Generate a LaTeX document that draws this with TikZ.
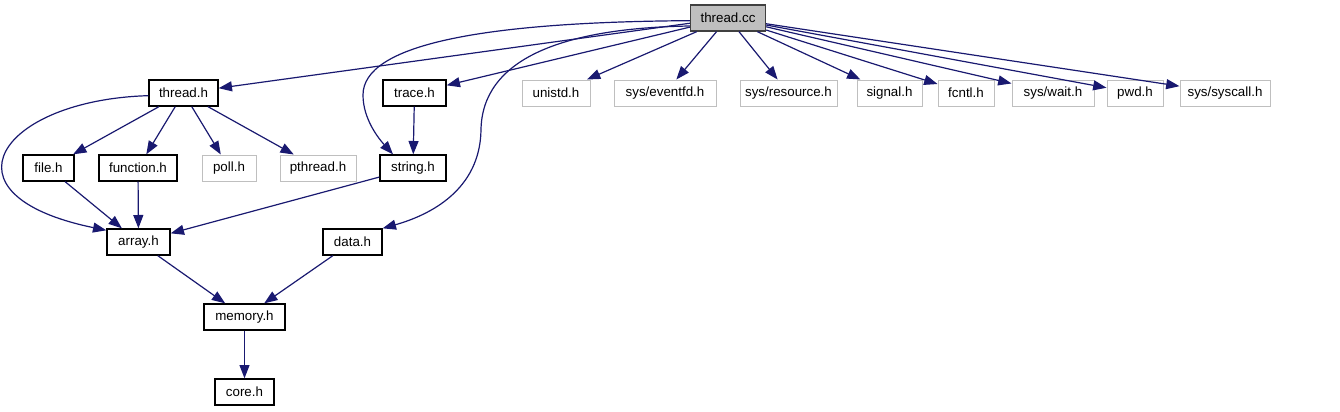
\documentclass[tikz,border=0pt]{standalone}
\usepackage{fontspec}
\setmainfont{Liberation Sans}
\usetikzlibrary{arrows.meta}
\definecolor{edgeblue}{HTML}{191970}
\definecolor{extgray}{HTML}{BFBFBF}
\definecolor{rootgray}{HTML}{BFBFBF}
\definecolor{rootline}{HTML}{404040}

\begin{document}
\begin{tikzpicture}[
  x=0.75pt, y=-0.75pt,
  >={Triangle[length=10pt, width=7.5pt]},
  every node/.style={font=\fontsize{10}{12}\selectfont, text=black},
  hdr/.style={draw=black, line width=1pt, fill=white, minimum height=19.5pt, inner xsep=2pt, inner ysep=0pt},
  ext/.style={hdr, draw=extgray, line width=0.75pt},
  root/.style={hdr, draw=rootline, fill=rootgray},
  dep/.style={edgeblue, line width=0.9pt, ->},
]

\useasboundingbox (0,0) rectangle (1340,411);

% Root file
\node[root, minimum width=56.25pt] (tcc) at (728,18) {thread.cc};

% First row
\node[hdr, minimum width=51.75pt] (threadh) at (183.5,93) {thread.h};
\node[hdr, minimum width=47.25pt] (trace) at (414.5,93) {trace.h};
\node[ext, minimum width=51pt] (unistd) at (556,93) {unistd.h};
\node[ext, minimum width=76.5pt] (eventfd) at (665,93) {sys/eventfd.h};
\node[ext, minimum width=72.75pt] (resource) at (788.5,93) {sys/resource.h};
\node[ext, minimum width=48.75pt] (signal) at (889.5,93) {signal.h};
\node[ext, minimum width=42pt] (fcntl) at (966,93) {fcntl.h};
\node[ext, minimum width=61.5pt] (wait) at (1053,93) {sys/wait.h};
\node[ext, minimum width=42pt] (pwd) at (1135,93) {pwd.h};
\node[ext, minimum width=67.5pt] (syscall) at (1225,93) {sys/syscall.h};

% Second row
\node[hdr, minimum width=38.25pt] (file) at (48.5,168) {file.h};
\node[hdr, minimum width=58.5pt] (function) at (138,168) {function.h};
\node[ext, minimum width=40.5pt] (poll) at (229,168) {poll.h};
\node[ext, minimum width=57pt] (pthread) at (318,168) {pthread.h};
\node[hdr, minimum width=49.5pt] (string) at (413,168) {string.h};

% Lower rows
\node[hdr, minimum width=47.25pt] (array) at (138.5,242) {array.h};
\node[hdr, minimum width=44.25pt] (data) at (352.5,242) {data.h};
\node[hdr, minimum width=60.75pt] (memory) at (244.5,317) {memory.h};
\node[hdr, minimum width=44.25pt] (core) at (244.5,392) {core.h};

% Edges from thread.cc
\draw[dep] (tcc) -- (threadh);
\draw[dep] ([yshift=-2pt]tcc.west) .. controls (480,22) and (363,45) .. (363,95)
  .. controls (363,120) and (380,140) .. ([xshift=-15pt]string.north);
\draw[dep] (tcc) -- (trace);
\draw[dep] ([yshift=-6pt]tcc.west) .. controls (560,28) and (482,60) .. (481,130)
  .. controls (480,190) and (430,215) .. (data.north east);
\draw[dep] (tcc) -- (unistd);
\draw[dep] (tcc) -- (eventfd);
\draw[dep] (tcc) -- (resource);
\draw[dep] (tcc) -- (signal);
\draw[dep] (tcc) -- (fcntl);
\draw[dep] (tcc) -- (wait);
\draw[dep] (tcc) -- (pwd);
\draw[dep] (tcc) -- (syscall);

% Edges from thread.h
\draw[dep] (threadh) -- (file);
\draw[dep] (threadh) -- (function);
\draw[dep] (threadh) -- (poll);
\draw[dep] (threadh) -- (pthread);
\draw[dep] ([yshift=-2pt]threadh.west) .. controls (0,100) and (-65,195) .. (array.160);

% Remaining edges
\draw[dep] (trace) -- (string);
\draw[dep] (file) -- (array);
\draw[dep] (function) -- (array);
\draw[dep] (string) -- (array);
\draw[dep] (array) -- (memory);
\draw[dep] (data) -- (memory);
\draw[dep] (memory) -- (core);

\end{tikzpicture}
\end{document}
